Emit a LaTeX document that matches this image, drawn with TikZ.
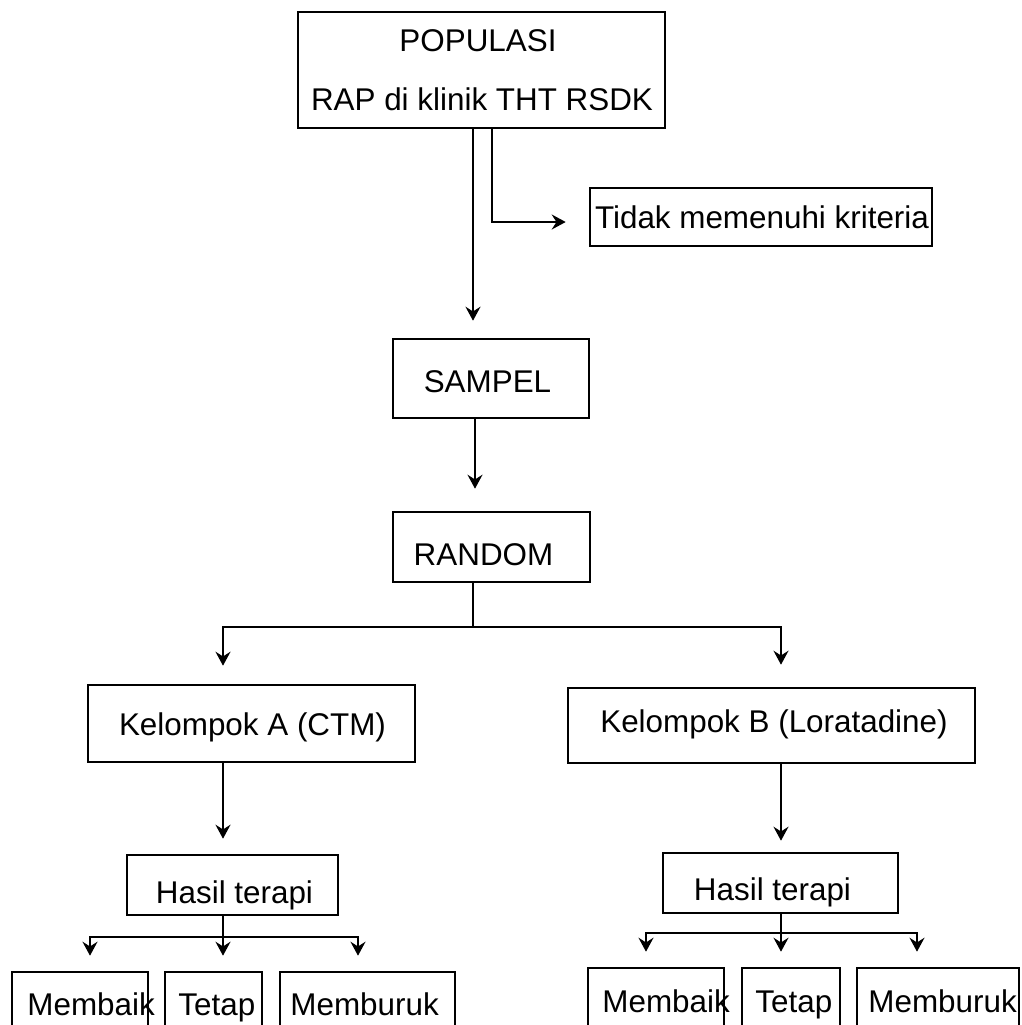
\documentclass[tikz,border=0pt]{standalone}
\usepackage{fontspec}
\setmainfont{Liberation Sans}
\usetikzlibrary{arrows.meta}
\tikzset{
  boxn/.style={draw, line width=1.3pt, inner sep=0pt, rectangle},
  txt/.style={inner sep=0pt, anchor=base, font=\fontsize{15.7}{18}\selectfont},
  txtl/.style={inner sep=0pt, anchor=base west, font=\fontsize{15.7}{18}\selectfont},
  ln/.style={line width=1.3pt},
  arr/.style={line width=1.3pt, -{Stealth[length=7pt,width=7.5pt,inset=2.4pt]}}
}
\begin{document}
\begin{tikzpicture}[x=0.5pt,y=-0.5pt]
\useasboundingbox (0,0) rectangle (1022,1025);
\clip (0,0) rectangle (1022,1025);
\fill[white] (0,0) rectangle (1022,1025);
% boxes
\node[boxn, minimum width=183.5pt, minimum height=58pt] (pop) at (481.5,70) {};
\node[boxn, minimum width=171pt, minimum height=29pt] (tdk) at (761,217) {};
\node[boxn, minimum width=98pt, minimum height=39.5pt] (sam) at (491,378.5) {};
\node[boxn, minimum width=98.5pt, minimum height=35pt] (rnd) at (491.5,547) {};
\node[boxn, minimum width=163.5pt, minimum height=38.5pt] (kA) at (251.5,723.5) {};
\node[boxn, minimum width=203.5pt, minimum height=37.5pt] (kB) at (771.5,725.5) {};
\node[boxn, minimum width=105.5pt, minimum height=30pt] (hA) at (232.5,885) {};
\node[boxn, minimum width=117.5pt, minimum height=30pt] (hB) at (780.5,883) {};
\node[boxn, minimum width=68pt, minimum height=50pt] (mbA) at (80,1022) {};
\node[boxn, minimum width=48.5pt, minimum height=50pt] (tpA) at (213.5,1022) {};
\node[boxn, minimum width=87.5pt, minimum height=50pt] (mbrA) at (367.5,1022) {};
\node[boxn, minimum width=68pt, minimum height=50pt] (mbB) at (656,1018) {};
\node[boxn, minimum width=49pt, minimum height=50pt] (tpB) at (791,1018) {};
\node[boxn, minimum width=81pt, minimum height=50pt] (mbrB) at (938,1018) {};
% texts
\node[txt] (t1) at (478,51) {POPULASI};
\node[txt] (t2) at (482,110) {RAP di klinik THT RSDK};
\node[txt] (t3) at (762,228) {Tidak memenuhi kriteria};
\node[txt] (t4) at (487.5,392) {SAMPEL};
\node[txt] (t5) at (483.5,565) {RANDOM};
\node[txt] (t6) at (252.5,735) {Kelompok A (CTM)};
\node[txt] (t7) at (774,732) {Kelompok B (Loratadine)};
\node[txt] (t8) at (234.5,903) {Hasil terapi};
\node[txt] (t9) at (772.5,900) {Hasil terapi};
\node[txtl] (t10) at (27,1015) {Membaik};
\node[txtl] (t11) at (178,1015) {Tetap};
\node[txtl] (t12) at (290,1015) {Memburuk};
\node[txtl] (t13) at (602,1012) {Membaik};
\node[txtl] (t14) at (755,1012) {Tetap};
\node[txtl] (t15) at (868,1012) {Memburuk};
% coordinates
\coordinate (x1) at (473,0);
\coordinate (x2) at (492,222);
\coordinate (x3) at (475,0);
\coordinate (jR) at (473,627);
\coordinate (xa) at (223,0);
\coordinate (xb) at (781,0);
\coordinate (jA) at (223,937);
\coordinate (jB) at (781,933);
\coordinate (a1) at (90,0);
\coordinate (a3) at (358,0);
\coordinate (b1) at (646,0);
\coordinate (b3) at (917,0);
% connectors
\draw[arr, shorten >=8.5pt] (pop.south -| x1) -- (sam.north -| x1);
\draw[arr, shorten >=11.5pt] (pop.south -| x2) |- (tdk.west |- x2);
\draw[arr, shorten >=11pt] (sam.south -| x3) -- (rnd.north -| x3);
\draw[ln] (rnd.south -| jR) -- (jR);
\draw[arr, shorten >=9pt] (jR) -| (kA.north -| xa);
\draw[arr, shorten >=11pt] (jR) -| (kB.north -| xb);
\draw[arr, shorten >=7.5pt] (kA.south -| xa) -- (hA.north -| xa);
\draw[arr, shorten >=5.5pt] (kB.south -| xb) -- (hB.north -| xb);
\draw[ln] (hA.south -| jA) -- (jA);
\draw[arr, shorten >=7.5pt] (jA) -| (mbA.north -| a1);
\draw[arr, shorten >=7.5pt] (jA) -- (tpA.north -| jA);
\draw[arr, shorten >=7.5pt] (jA) -| (mbrA.north -| a3);
\draw[ln] (hB.south -| jB) -- (jB);
\draw[arr, shorten >=7.5pt] (jB) -| (mbB.north -| b1);
\draw[arr, shorten >=7.5pt] (jB) -- (tpB.north -| jB);
\draw[arr, shorten >=7.5pt] (jB) -| (mbrB.north -| b3);
\end{tikzpicture}
\end{document}
